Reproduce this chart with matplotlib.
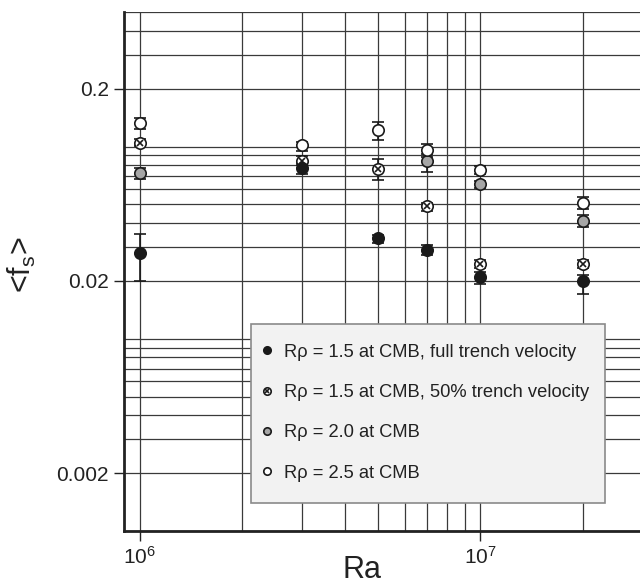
import numpy as np
import matplotlib
matplotlib.use("Agg")
import matplotlib.pyplot as plt
from matplotlib.lines import Line2D
from matplotlib.patches import Rectangle
from matplotlib.legend_handler import HandlerTuple
from matplotlib.ticker import FixedLocator, NullFormatter

plt.rcParams['font.family'] = ['Liberation Sans', 'DejaVu Sans']
plt.rcParams['mathtext.fontset'] = 'custom'
plt.rcParams['mathtext.rm'] = 'Liberation Sans'
plt.rcParams['mathtext.it'] = 'Liberation Sans:italic'

# Rayleigh numbers
ra = [1e6, 3e6, 5e6, 7e6, 1e7, 2e7]

# R rho = 1.5, full trench velocity
full_val = [0.0281, 0.0771, 0.0333, 0.0290, 0.0210, 0.0200]
full_lo = [0.0201, 0.0721, 0.0316, 0.0272, 0.0192, 0.0171]
full_hi = [0.0349, 0.0820, 0.0345, 0.0308, 0.0222, 0.0215]

# R rho = 1.5, 50% trench velocity
half_val = [0.105, 0.0846, 0.0763, 0.0489, 0.0245, 0.0245]
half_lo = [0.101, 0.0805, 0.0674, 0.0462, 0.0233, 0.0233]
half_hi = [0.109, 0.0890, 0.0862, 0.0511, 0.0257, 0.0257]

# R rho = 2.0
r20_val = [0.0730, np.nan, np.nan, 0.0843, 0.0638, 0.0410]
r20_lo = [0.0679, np.nan, np.nan, 0.0740, 0.0612, 0.0381]
r20_hi = [0.0775, np.nan, np.nan, 0.0880, 0.0665, 0.0440]

# R rho = 2.5
r25_val = [0.133, 0.102, 0.122, 0.0958, 0.0752, 0.0510]
r25_lo = [0.124, 0.0949, 0.108, 0.0910, 0.0720, 0.0475]
r25_hi = [0.141, 0.1063, 0.135, 0.1035, 0.0792, 0.0550]

labels = ["R\u03c1 = 1.5 at CMB, full trench velocity",
          "R\u03c1 = 1.5 at CMB, 50% trench velocity",
          "R\u03c1 = 2.0 at CMB",
          "R\u03c1 = 2.5 at CMB"]


def yerr(val, lo, hi):
    val = np.array(val)
    return [val - np.array(lo), np.array(hi) - val]


fig = plt.figure(figsize=(6.4, 5.85), dpi=100)
ax = fig.add_axes([0.19375, 0.0923, 0.8106, 0.8867])
ax.set_xscale('log')
ax.set_yscale('log')
ax.set_xlim(9e5, 3e7)
ax.set_ylim(0.001, 0.5)

ebkw = dict(ls='none', ecolor='#1a1a1a', elinewidth=1.2, capsize=4.3, capthick=1.2,
            ms=8.2, mew=1.2, mec='#1a1a1a', zorder=3)

ax.errorbar(ra, r20_val, yerr=yerr(r20_val, r20_lo, r20_hi), fmt='o', mfc='#a6a6a6', **ebkw)
ax.errorbar(ra, r25_val, yerr=yerr(r25_val, r25_lo, r25_hi), fmt='o', mfc='white', **ebkw)
ax.errorbar(ra, half_val, yerr=yerr(half_val, half_lo, half_hi), fmt='o', mfc='white', **ebkw)
ax.plot(ra, half_val, 'x', ms=5, mew=1.2, color='#1a1a1a', zorder=3.1)
ax.errorbar(ra, full_val, yerr=yerr(full_val, full_lo, full_hi), fmt='o', mfc='#1a1a1a', **ebkw)

# ticks and grid
ax.xaxis.set_major_locator(FixedLocator([1e6, 1e7]))
ax.set_xticklabels([r'$10^{6}$', r'$10^{7}$'])
ax.xaxis.set_minor_locator(FixedLocator([k * 1e6 for k in range(2, 10)] + [2e7, 3e7]))
ax.xaxis.set_minor_formatter(NullFormatter())

ax.yaxis.set_major_locator(FixedLocator([0.002, 0.02, 0.2]))
ax.set_yticklabels(['0.002', '0.02', '0.2'])
yminor = [k * 10.0 ** e for e in (-3, -2, -1) for k in range(1, 10)] + [1.0]
yminor = [v for v in yminor if v <= 0.5 and v not in (0.002, 0.02, 0.2)]
ax.yaxis.set_minor_locator(FixedLocator(yminor))
ax.yaxis.set_minor_formatter(NullFormatter())

ax.grid(which='both', color='#3a3a3a', lw=0.9)
ax.set_axisbelow(True)
ax.tick_params(which='major', direction='out', length=7, width=1, color='#222222',
               labelsize=15, labelcolor='#222222', pad=4)
ax.tick_params(which='minor', length=0)

for s in ['top', 'right']:
    ax.spines[s].set_visible(False)
for s in ['left', 'bottom']:
    ax.spines[s].set_linewidth(2)
    ax.spines[s].set_color('#222222')

ax.set_xlabel('Ra', fontsize=22, color='#222222')
ax.xaxis.set_label_coords(0.459, -0.046)
ax.set_ylabel(r'<f$_\mathregular{s}$>', fontsize=22, color='#222222')
ax.yaxis.set_label_coords(-0.166, 0.513)

# legend box
ax.add_patch(Rectangle((0.2442, 0.0534), 0.683, 0.3457, transform=ax.transAxes,
                       facecolor='#f2f2f2', edgecolor='#8a8a8a', lw=1.2, zorder=4))

h_full = Line2D([], [], ls='none', marker='o', ms=8.2, mfc='#1a1a1a', mec='#1a1a1a', mew=1.2)
h_circ = Line2D([], [], ls='none', marker='o', ms=8.2, mfc='white', mec='#1a1a1a', mew=1.2)
h_x = Line2D([], [], ls='none', marker='x', ms=5, mew=1.2, color='#1a1a1a')
h_r20 = Line2D([], [], ls='none', marker='o', ms=8.2, mfc='#a6a6a6', mec='#1a1a1a', mew=1.2)
h_r25 = Line2D([], [], ls='none', marker='o', ms=8.2, mfc='white', mec='#1a1a1a', mew=1.2)

leg = ax.legend([h_full, (h_circ, h_x), h_r20, h_r25], labels,
                handler_map={tuple: HandlerTuple(ndivide=1)},
                loc='center left', bbox_to_anchor=(0.2442, 0.228), borderaxespad=0,
                frameon=False, fontsize=13.2, markerscale=0.65, handlelength=0.8,
                handletextpad=0.5, borderpad=0.5, labelspacing=1.27)
leg.set_zorder(5)
for t in leg.get_texts():
    t.set_color('#222222')

fig.savefig('out.png', dpi=100)
